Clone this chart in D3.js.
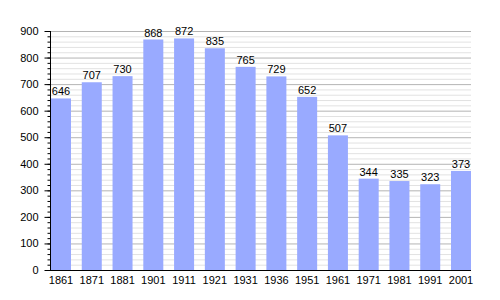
<!DOCTYPE html>
<html>
<head>
<meta charset="utf-8">
<script src="https://cdn.jsdelivr.net/npm/d3@7"></script>
<style>
  body { margin: 0; background: #fff; }
  svg { display: block; font-family: "Liberation Sans", Arial, sans-serif; }
</style>
</head>
<body>
<div id="chart"></div>
<script>
const years = ['1861','1871','1881','1901','1911','1921','1931','1936','1951','1961','1971','1981','1991','2001']
const population = [646,707,730,868,872,835,765,729,652,507,344,335,323,373]
const yTicks = [0,100,200,300,400,500,600,700,800,900]

const svg = d3.select('#chart').append('svg')
  .attr('width', 500)
  .attr('height', 300)

const margin = {top: 31, right: 29, bottom: 30, left: 50}
const width = 500 - margin.left - margin.right
const height = 300 - margin.top - margin.bottom

const x = d3.scaleBand().domain(years).range([1, width]).paddingInner(0.35).paddingOuter(0)
const y = d3.scaleLinear().domain([0, 900]).range([height, 0])

const chart = svg.append('g').attr('transform', `translate(${margin.left},${margin.top})`)

// minor grid every 20, major every 100
chart.append('g').selectAll('line')
  .data(d3.range(20, 900, 20).filter(v => v % 100))
  .enter().append('line')
  .attr('x1', 0).attr('x2', width)
  .attr('y1', d => y(d) + 0.5).attr('y2', d => y(d) + 0.5)
  .attr('stroke', '#e2e2e2')
chart.append('g').selectAll('line')
  .data(yTicks.slice(1))
  .enter().append('line')
  .attr('x1', 0).attr('x2', width)
  .attr('y1', d => y(d) + 0.5).attr('y2', d => y(d) + 0.5)
  .attr('stroke', '#b4b4b4')

chart.append('g').selectAll('rect')
  .data(population)
  .enter().append('rect')
  .attr('x', (d, i) => x(years[i]))
  .attr('y', d => y(d))
  .attr('width', x.bandwidth())
  .attr('height', d => height - y(d))
  .attr('fill', '#99aaff')

chart.append('g').selectAll('text')
  .data(population)
  .enter().append('text')
  .attr('x', (d, i) => x(years[i]) + x.bandwidth() / 2)
  .attr('y', d => y(d) - 3)
  .attr('text-anchor', 'middle')
  .attr('font-size', 11)
  .attr('fill', '#000')
  .text(d => d)

// y axis with minor ticks
const yAxis = chart.append('g').attr('transform', 'translate(0.5,0)')
yAxis.call(d3.axisLeft(y).tickValues(d3.range(0, 901, 20)).tickSize(3).tickFormat(''))
yAxis.select('.domain').remove()
yAxis.selectAll('.tick line').attr('stroke', '#000')
const yMajor = chart.append('g').attr('transform', 'translate(0.5,0)')
yMajor.call(d3.axisLeft(y).tickValues(yTicks).tickSize(6).tickPadding(6))
yMajor.select('.domain').attr('stroke', '#000').attr('d', `M0,${height}V0`)
yMajor.selectAll('.tick text').attr('font-size', 11).attr('font-family', '"Liberation Sans", Arial, sans-serif').attr('fill', '#000')

const xAxis = chart.append('g').attr('transform', `translate(0,${height + 0.5})`)
xAxis.call(d3.axisBottom(x).tickSize(0).tickPadding(6))
xAxis.select('.domain').attr('stroke', '#000').attr('d', `M0,0H${width}`)
xAxis.selectAll('.tick text').attr('font-size', 11).attr('font-family', '"Liberation Sans", Arial, sans-serif').attr('fill', '#000')
</script>
</body>
</html>
